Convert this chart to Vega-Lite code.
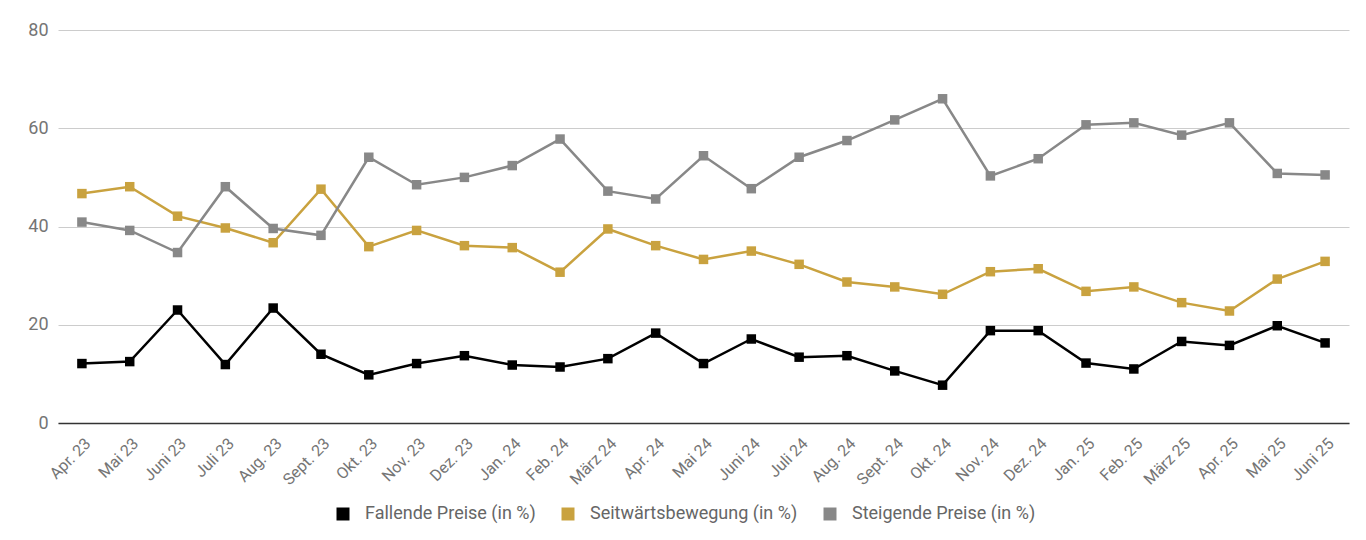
{
  "$schema": "https://vega.github.io/schema/vega-lite/v6.json",
  "autosize": {"type": "none"},
  "width": 1291,
  "height": 393,
  "padding": {"left": 58, "top": 30, "right": 17, "bottom": 117},
  "background": "white",
  "config": {
    "font": "Roboto",
    "view": {"stroke": null}
  },
  "datasets": {
    "umfrage": [
      {"monat": "Apr. 23", "fallend": 12.1, "seitwaerts": 46.7, "steigend": 40.9},
      {"monat": "Mai 23", "fallend": 12.5, "seitwaerts": 48.1, "steigend": 39.2},
      {"monat": "Juni 23", "fallend": 23.0, "seitwaerts": 42.1, "steigend": 34.7},
      {"monat": "Juli 23", "fallend": 11.9, "seitwaerts": 39.7, "steigend": 48.1},
      {"monat": "Aug. 23", "fallend": 23.4, "seitwaerts": 36.7, "steigend": 39.6},
      {"monat": "Sept. 23", "fallend": 14.0, "seitwaerts": 47.6, "steigend": 38.2},
      {"monat": "Okt. 23", "fallend": 9.8, "seitwaerts": 35.9, "steigend": 54.1},
      {"monat": "Nov. 23", "fallend": 12.1, "seitwaerts": 39.2, "steigend": 48.5},
      {"monat": "Dez. 23", "fallend": 13.7, "seitwaerts": 36.1, "steigend": 50.0},
      {"monat": "Jan. 24", "fallend": 11.8, "seitwaerts": 35.7, "steigend": 52.4},
      {"monat": "Feb. 24", "fallend": 11.4, "seitwaerts": 30.7, "steigend": 57.8},
      {"monat": "März 24", "fallend": 13.1, "seitwaerts": 39.5, "steigend": 47.2},
      {"monat": "Apr. 24", "fallend": 18.3, "seitwaerts": 36.1, "steigend": 45.6},
      {"monat": "Mai 24", "fallend": 12.1, "seitwaerts": 33.3, "steigend": 54.4},
      {"monat": "Juni 24", "fallend": 17.1, "seitwaerts": 35.0, "steigend": 47.7},
      {"monat": "Juli 24", "fallend": 13.4, "seitwaerts": 32.3, "steigend": 54.1},
      {"monat": "Aug. 24", "fallend": 13.7, "seitwaerts": 28.7, "steigend": 57.5},
      {"monat": "Sept. 24", "fallend": 10.6, "seitwaerts": 27.7, "steigend": 61.7},
      {"monat": "Okt. 24", "fallend": 7.7, "seitwaerts": 26.2, "steigend": 66.0},
      {"monat": "Nov. 24", "fallend": 18.8, "seitwaerts": 30.8, "steigend": 50.3},
      {"monat": "Dez. 24", "fallend": 18.8, "seitwaerts": 31.4, "steigend": 53.8},
      {"monat": "Jan. 25", "fallend": 12.2, "seitwaerts": 26.8, "steigend": 60.7},
      {"monat": "Feb. 25", "fallend": 11.0, "seitwaerts": 27.7, "steigend": 61.1},
      {"monat": "März 25", "fallend": 16.6, "seitwaerts": 24.5, "steigend": 58.6},
      {"monat": "Apr. 25", "fallend": 15.8, "seitwaerts": 22.8, "steigend": 61.1},
      {"monat": "Mai 25", "fallend": 19.8, "seitwaerts": 29.3, "steigend": 50.8},
      {"monat": "Juni 25", "fallend": 16.3, "seitwaerts": 32.9, "steigend": 50.5}
    ]
  },
  "data": {"name": "umfrage"},
  "transform": [
    {"fold": ["fallend", "seitwaerts", "steigend"], "as": ["reihe", "wert"]},
    {
      "calculate": "datum.reihe === 'fallend' ? 'Fallende Preise (in %)' : datum.reihe === 'seitwaerts' ? 'Seitwärtsbewegung (in %)' : 'Steigende Preise (in %)'",
      "as": "serie"
    }
  ],
  "mark": {
    "type": "line",
    "strokeWidth": 2.5,
    "point": {"shape": "square", "size": 90, "filled": true, "opacity": 1}
  },
  "encoding": {
    "x": {
      "field": "monat",
      "type": "ordinal",
      "sort": null,
      "title": null,
      "scale": {"type": "point", "padding": 0.5},
      "axis": {
        "labelAngle": -45,
        "labelFontSize": 16,
        "labelColor": "#757575",
        "labelPadding": 12,
        "ticks": false,
        "grid": false,
        "domainColor": "#333333",
        "domainWidth": 1.5
      }
    },
    "y": {
      "field": "wert",
      "type": "quantitative",
      "title": null,
      "scale": {"domain": [0, 80], "nice": false},
      "axis": {
        "values": [0, 20, 40, 60, 80],
        "labelFontSize": 18,
        "labelColor": "#757575",
        "labelPadding": 10,
        "ticks": false,
        "domain": false,
        "gridColor": "#cccccc",
        "gridWidth": 1
      }
    },
    "color": {
      "field": "serie",
      "type": "nominal",
      "sort": ["Fallende Preise (in %)", "Seitwärtsbewegung (in %)", "Steigende Preise (in %)"],
      "scale": {
        "domain": ["Fallende Preise (in %)", "Seitwärtsbewegung (in %)", "Steigende Preise (in %)"],
        "range": ["#000000", "#c9a23f", "#888888"]
      },
      "legend": {
        "title": null,
        "orient": "none",
        "direction": "horizontal",
        "legendX": 276,
        "legendY": 475,
        "symbolType": "square",
        "symbolSize": 169,
        "symbolStrokeWidth": 0,
        "symbolOpacity": 1,
        "labelFontSize": 18,
        "labelLimit": 0,
        "labelColor": "#666666",
        "labelOffset": 13,
        "columnPadding": 23
      }
    }
  }
}
